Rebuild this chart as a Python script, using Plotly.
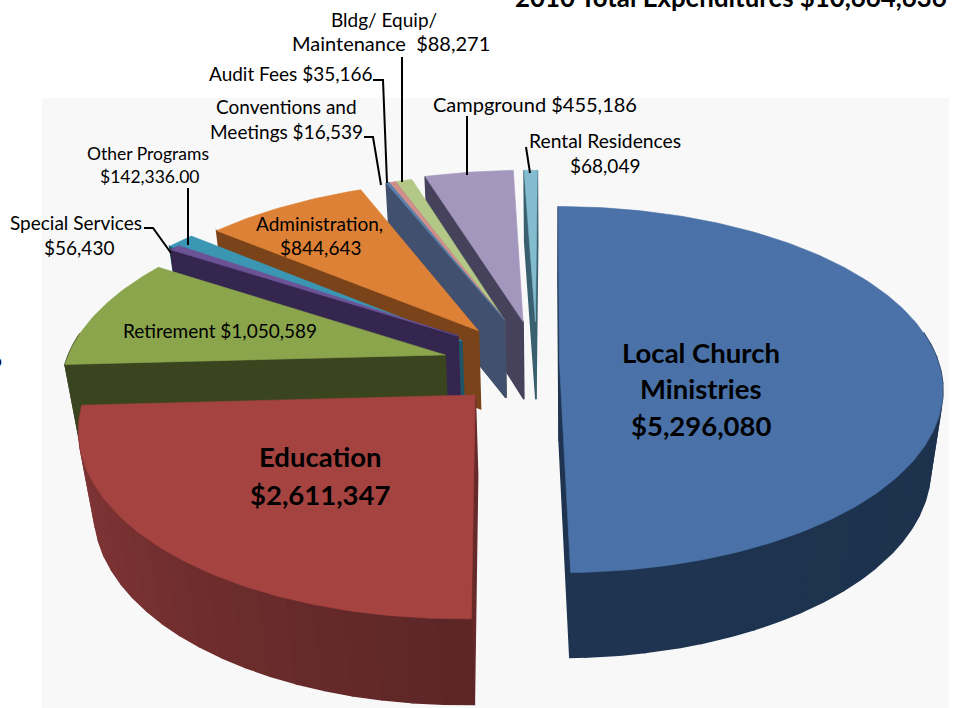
import numpy as np
import plotly.graph_objects as go

# ---- data ----
categories = ["Local Church Ministries", "Education", "Retirement", "Special Services",
              "Other Programs", "Administration", "Conventions and Meetings", "Audit Fees",
              "Bldg/ Equip/ Maintenance", "Campground", "Rental Residences"]
values = [5296080, 2611347, 1050589, 56430, 142336, 844643, 16539, 35166, 88271, 455186, 68049]

# ---- style: explosion and radius of every slice (in pie radii), colours ----
pull_x = [0.025, -0.193, -0.28, -0.25, -0.238, -0.195, -0.125, -0.125, -0.125, -0.074, -0.04]
pull_y = [0.0, -0.18, 0.04, 0.15, 0.12, 0.18, 0.245, 0.245, 0.245, 0.235, 0.235]
radius = [1.005, 1.006, 1.005, 1.02, 1.065, 1.03, 1.015, 1.015, 1.015, 1.05, 1.05]
top_colors = ["#4a72a8", "#a54341", "#8ba54d", "#6b5396", "#3b96b4", "#dd8136",
              "#5a82ad", "#cf8f8b", "#b3c886", "#a497bd", "#83bccf"]
wall_colors = ["#1e3450", "#662a2a", "#3a4520", "#34264f", "#1f5566", "#7a431a",
               "#40506e", "#5a4a4a", "#5e6648", "#46425c", "#3a6070"]

# ---- perspective projection of the pie ----
CX, CY, F, G, K, DEPTH, M = 550.0, 362.0, 377.0, 178.0, 0.15, 81.5, 0.032
W, H = 953, 708


def project(X, Y, z):
    X, Y = np.asarray(X, float), np.asarray(Y, float)
    w = 1 + K * Y + M * z
    return CX + F * X / w, CY + (-G * Y + DEPTH * z) / w


def poly(fig, xs, ys, color, lw=0.6):
    fig.add_trace(go.Scatter(x=list(xs) + [xs[0]], y=list(ys) + [ys[0]], mode="lines",
                             fill="toself", fillcolor=color, hoverinfo="skip",
                             line=dict(color=color, width=lw), showlegend=False))


def hex2rgb(h):
    return np.array([int(h[i:i + 2], 16) for i in (1, 3, 5)], float)


def shade(c, t):
    r = hex2rgb(c) * t
    r = np.clip(r, 0, 255).astype(int)
    return f"rgb({r[0]},{r[1]},{r[2]})"


fig = go.Figure()

edges = np.concatenate([[0], np.cumsum(values)]) / np.sum(values) * 360.0
draw_order = [10, 9, 8, 7, 6, 5, 4, 3, 2, 0, 1]
cam = np.array([0.0, -1.0 / K])

for i in draw_order:
    a0, a1 = edges[i], edges[i + 1]
    n = max(2, int((a1 - a0) / 1.0) + 1)
    th = np.radians(np.linspace(a0, a1, n))
    px, py = pull_x[i], pull_y[i]
    X = px + radius[i] * np.sin(th)
    Y = py + radius[i] * np.cos(th)
    faces = []
    # radial walls, only when they face the viewer
    normals = [np.array([-np.cos(th[0]), np.sin(th[0])]),
               np.array([np.cos(th[-1]), -np.sin(th[-1])])]
    for j, nrm in zip([0, n - 1], normals):
        if np.dot(nrm, cam - np.array([px, py])) > 0:
            fx = [px, X[j], X[j], px]
            fy = [py, Y[j], Y[j], py]
            fz = [0, 0, 1, 1]
            faces.append((np.mean(fy), fx, fy, fz, wall_colors[i]))
    # outer wall, only its front part
    step = max(1, n // 22)
    for j in range(0, n - 1, step):
        k = min(j + step, n - 1)
        if np.cos((th[j] + th[k]) / 2) > 0.12:
            continue
        fx = list(X[j:k + 1]) + list(X[j:k + 1][::-1])
        fy = list(Y[j:k + 1]) + list(Y[j:k + 1][::-1])
        fz = [0] * (k - j + 1) + [1] * (k - j + 1)
        if i == 1:
            t = 0.92 + 0.42 * (np.degrees(th[j]) - a0) / (a1 - a0)
        elif i == 0:
            t = 0.88 + 0.14 * (np.degrees(th[j]) - a0) / (a1 - a0)
        else:
            t = 1.0
        faces.append((np.mean(fy), fx, fy, fz, shade(wall_colors[i], t)))
    for _, fx, fy, fz, col in sorted(faces, key=lambda f: -f[0]):
        sx, sy = project(fx, fy, np.array(fz, float))
        poly(fig, sx, sy, col, lw=1.6)
    sx, sy = project(np.r_[px, X], np.r_[py, Y], 0.0)
    poly(fig, sx, sy, top_colors[i])

# ---- leader lines ----
leaders = [
    ([467, 467], [116, 175]),
    ([526, 530], [147, 173]),
    ([402, 402], [57, 182]),
    ([373, 383, 387], [80, 80, 183]),
    ([364, 373, 381], [137, 137, 185]),
    ([188, 188], [188, 245]),
    ([144, 153, 171], [228, 228, 253]),
]
for lx, ly in leaders:
    fig.add_trace(go.Scatter(x=lx, y=ly, mode="lines", hoverinfo="skip", showlegend=False,
                             line=dict(color="#000000", width=2)))

# ---- text ----
label_lines = [
    ("2010 Total Expenditures $10,664,636", 731, -3, 25.8, True),
    ("6", -4, 359, 19, False),
    ("Bldg/ Equip/", 384, 19, 19, False),
    ("Maintenance\u00a0\u00a0$88,271", 391, 43, 20, False),
    ("Audit Fees $35,166", 291, 74, 19, False),
    ("Conventions and", 286, 106, 19, False),
    ("Meetings $16,539", 286, 131, 19, False),
    ("Campground $455,186", 535, 104, 20, False),
    ("Rental Residences", 605, 140, 19.3, False),
    ("$68,049", 605, 165, 19, False),
    ("Other Programs", 148, 154, 17.5, False),
    ("$142,336.00", 149, 176, 17.5, False),
    ("Special Services", 76, 222, 19, False),
    ("$56,430", 79, 247, 19, False),
    ("Administration,", 319, 223, 19, False),
    ("$844,643", 320, 247, 19, False),
    ("Retirement $1,050,589", 220, 330, 19, False),
    ("Local Church", 701, 352.5, 27.5, True),
    ("Ministries", 701, 388.5, 27.5, True),
    ("$5,296,080", 701, 425.5, 27.5, True),
    ("Education", 320, 456.5, 27.5, True),
    ("$2,611,347", 320, 494.5, 27.5, True),
]
annotations = [
    dict(text=(f"<b>{t}</b>" if b else t), x=x / W, y=1 - y / H, xref="paper", yref="paper",
         showarrow=False, xanchor="center", yanchor="middle",
         font=dict(family="Lato", size=s, color="#000000"))
    for t, x, y, s, b in label_lines
]

fig.update_layout(
    width=W, height=H, autosize=False,
    margin=dict(l=0, r=0, t=0, b=0),
    paper_bgcolor="#ffffff", plot_bgcolor="#ffffff",
    xaxis=dict(range=[0, W], visible=False, fixedrange=True),
    yaxis=dict(range=[H, 0], visible=False, fixedrange=True),
    showlegend=False,
    annotations=annotations,
    shapes=[dict(type="rect", xref="x", yref="y", x0=42, x1=949, y0=98, y1=708,
                 fillcolor="#f8f8f9", line=dict(width=0), layer="below")],
)

fig.write_html("out.html", config={"displayModeBar": False},
               post_script="document.body.style.margin='0';document.body.style.overflow='hidden';")
